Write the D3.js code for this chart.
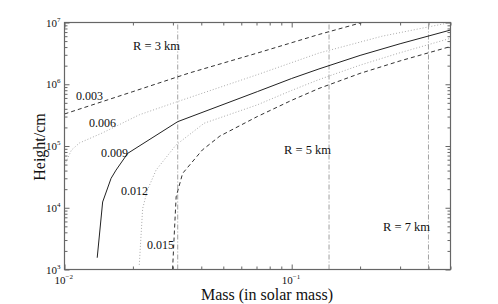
<!DOCTYPE html>
<html>
<head>
<meta charset="utf-8">
<script src="https://cdn.jsdelivr.net/npm/d3@7"></script>
<style>
  body { margin: 0; background: #fff; }
  text { font-family: "Liberation Serif", "DejaVu Serif", serif; fill: #111; }
</style>
</head>
<body>
<div id="chart"></div>
<script>
  // curve labels
  const labels = ['0.003', '0.006', '0.009', '0.012', '0.015'];

  // mass (solar mass) and height (cm) for each curve
  const mass003 = [0.01, 0.02, 0.0354, 0.0706, 0.1318, 0.148, 0.204];
  const h003 = [3.3e5, 7.6e5, 1.52e6, 3.2e6, 6.4e6, 7.2e6, 1e7];

  const mass006 = [0.01, 0.01073, 0.01164, 0.01469, 0.02134, 0.0315, 0.0706, 0.1318, 0.25, 0.5];
  const h006 = [4.9e4, 8.6e4, 1.12e5, 1.63e5, 3.2e5, 5.25e5, 1.43e6, 3.2e6, 6.0e6, 1e7];

  const mass009 = [0.01393, 0.01472, 0.01603, 0.01686, 0.01897, 0.0315, 0.0706, 0.1, 0.1318, 0.2, 0.3, 0.5];
  const h009 = [1550, 12400, 29900, 40700, 76000, 2.48e5, 7.6e5, 1.24e6, 1.77e6, 2.93e6, 4.53e6, 7.55e6];

  const mass012 = [0.02134, 0.02208, 0.02317, 0.02529, 0.03097, 0.0412, 0.0706, 0.1, 0.1318, 0.2, 0.3, 0.5];
  const h012 = [1190, 9700, 19300, 40700, 1.04e5, 2.34e5, 4.64e5, 7.95e5, 1.19e6, 2.04e6, 3.24e6, 5.55e6];

  const mass015 = [0.0299, 0.0304, 0.031, 0.0331, 0.0404, 0.0483, 0.0706, 0.1, 0.1318, 0.2, 0.3, 0.5];
  const h015 = [1000, 3570, 15000, 36000, 8.6e4, 1.45e5, 3.0e5, 5.5e5, 8.55e5, 1.5e6, 2.39e6, 4.08e6];

  // radius markers
  const radii = ['R = 3 km', 'R = 5 km', 'R = 7 km'];
  const radiusMass = [0.0315, 0.146, 0.40];

  const xTicks = [0.01, 0.1];
  const yTicks = [1e3, 1e4, 1e5, 1e6, 1e7];

  const width = 498, height = 304;
  const margin = { left: 64.5, right: 47.5, top: 22.5, bottom: 34.5 };

  const svg = d3.select('#chart').append('svg')
    .attr('width', width)
    .attr('height', height);

  const x = d3.scaleLog().domain([0.01, 0.5]).range([margin.left, width - margin.right]);
  const y = d3.scaleLog().domain([1e3, 1e7]).range([height - margin.bottom, margin.top]);
  const x0 = x.range()[0], x1 = x.range()[1], y0 = y.range()[0], y1 = y.range()[1];

  svg.append('defs').append('clipPath').attr('id', 'clip')
    .append('rect')
    .attr('x', x0).attr('y', y1)
    .attr('width', x1 - x0)
    .attr('height', y0 - y1);

  // minor tick values
  const xMinor = [], yMinor = [];
  for (let d = 0.01; d < 1; d *= 10)
    for (let k = 2; k <= 9; k++) if (d * k <= 0.5) xMinor.push(d * k);
  for (let d = 1e3; d < 1e7; d *= 10)
    for (let k = 2; k <= 9; k++) yMinor.push(d * k);

  function ticks(axisFn, scale, pos, major, minor) {
    const g = svg.append('g').attr('transform', pos);
    g.append('g').call(axisFn(scale).tickValues(minor).tickSize(-3).tickFormat(''));
    g.append('g').call(axisFn(scale).tickValues(major).tickSize(-5).tickFormat(''));
    g.selectAll('path').remove();
    g.selectAll('line').attr('stroke', '#666');
  }
  ticks(d3.axisBottom, x, `translate(0,${y0})`, xTicks, xMinor);
  ticks(d3.axisTop, x, `translate(0,${y1})`, xTicks, xMinor);
  ticks(d3.axisLeft, y, `translate(${x0},0)`, yTicks, yMinor);
  ticks(d3.axisRight, y, `translate(${x1},0)`, yTicks, yMinor);

  // vertical radius lines
  svg.selectAll('.rline').data(radiusMass).enter()
    .append('line')
    .attr('x1', d => x(d)).attr('x2', d => x(d))
    .attr('y1', y0).attr('y2', y1)
    .attr('stroke', '#888').attr('stroke-width', 0.8)
    .attr('stroke-dasharray', '5,2,1,2');

  // curves
  const series = [
    { m: mass003, h: h003, color: '#333', dash: '4,3' },
    { m: mass006, h: h006, color: '#aaa', dash: '1,2' },
    { m: mass009, h: h009, color: '#222', dash: null },
    { m: mass012, h: h012, color: '#aaa', dash: '1,2' },
    { m: mass015, h: h015, color: '#333', dash: '4,3' }
  ];
  const line = d3.line()
    .x(d => x(d[0])).y(d => y(d[1]));

  svg.append('g').attr('clip-path', 'url(#clip)')
    .selectAll('path').data(series).enter()
    .append('path')
    .attr('d', s => line(s.m.map((v, i) => [v, s.h[i]])))
    .attr('fill', 'none')
    .attr('stroke', s => s.color)
    .attr('stroke-width', 1)
    .attr('stroke-dasharray', s => s.dash);

  // frame
  svg.append('rect')
    .attr('x', x0).attr('y', y1)
    .attr('width', x1 - x0).attr('height', y0 - y1)
    .attr('fill', 'none').attr('stroke', '#666').attr('stroke-width', 1.2);

  // tick labels with exponents
  function powLabel(g, exp) {
    g.append('tspan').text('10');
    g.append('tspan').attr('dy', -5).attr('font-size', 7).text(exp);
  }
  xTicks.forEach(v => {
    const t = svg.append('text')
      .attr('x', x(v) - 10).attr('y', 284).attr('font-size', 11);
    powLabel(t, '\u2212' + Math.round(-Math.log10(v)));
  });
  yTicks.forEach(v => {
    const t = svg.append('text')
      .attr('x', 46).attr('y', y(v) + 4).attr('font-size', 11);
    powLabel(t, Math.round(Math.log10(v)));
  });

  // axis titles
  svg.append('text')
    .attr('x', 267).attr('y', 300)
    .attr('text-anchor', 'middle').attr('font-size', 16)
    .text('Mass (in solar mass)');
  svg.append('text')
    .attr('transform', 'translate(45,147) rotate(-90)')
    .attr('text-anchor', 'middle').attr('font-size', 16)
    .text('Height/cm');

  // curve labels
  const labelPos = [[76, 100], [89, 127], [101, 157], [121, 195], [147, 249]];
  labels.forEach((l, i) => {
    svg.append('text')
      .attr('x', labelPos[i][0]).attr('y', labelPos[i][1])
      .attr('font-size', 12).text(l);
  });

  // radius labels
  const rPos = [[133, 50], [284, 154], [383, 231]];
  radii.forEach((r, i) => {
    svg.append('text')
      .attr('x', rPos[i][0]).attr('y', rPos[i][1])
      .attr('font-size', 12.5).text(r);
  });
</script>
</body>
</html>
